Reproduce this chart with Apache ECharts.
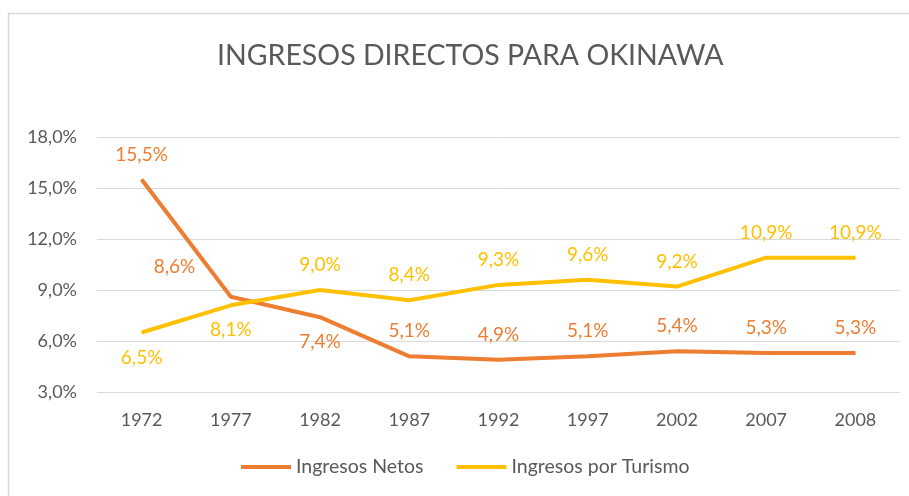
<!DOCTYPE html>
<html>
<head>
<meta charset="utf-8">
<script src="https://cdn.jsdelivr.net/npm/echarts@6/dist/echarts.min.js"></script>
<style>
  html, body { margin: 0; padding: 0; background: #fff; }
  #chart { width: 909px; height: 496px; }
</style>
</head>
<body>
<div id="chart"></div>
<script>
const years = ['1972', '1977', '1982', '1987', '1992', '1997', '2002', '2007', '2008']
const netos = [15.5, 8.6, 7.4, 5.1, 4.9, 5.1, 5.4, 5.3, 5.3]
const turismo = [6.5, 8.1, 9.0, 8.4, 9.3, 9.6, 9.2, 10.9, 10.9]
// label placement per point (Excel puts some below)
const netosPos = ['top', 'left', 'bottom', 'top', 'top', 'top', 'top', 'top', 'top']
const turismoPos = ['bottom', 'bottom', 'top', 'top', 'top', 'top', 'top', 'top', 'top']

const font = 'Lato, "Open Sans", sans-serif'
const fmt = v => v.toFixed(1).replace('.', ',') + '%'

function points(values, positions) {
  return values.map((v, i) => {
    const item = { value: v, label: { position: positions[i] } }
    if (positions[i] === 'left') {
      item.label.offset = [-20, -30]
    }
    return item
  })
}

const chart = echarts.init(document.getElementById('chart'))

const option = {
  animation: false,
  title: {
    text: 'INGRESOS DIRECTOS PARA OKINAWA',
    left: 212,
    top: 36,
    textStyle: { fontFamily: font, fontSize: 28.5, fontWeight: 'normal', color: '#595959' }
  },
  graphic: [
    {
      type: 'polyline',
      shape: { points: [[8.5, 496], [8.5, 13.5], [909, 13.5]] },
      style: { stroke: '#d9d9d9', lineWidth: 1.5, fill: null }
    }
  ],
  legend: {
    bottom: 14,
    left: 236,
    itemWidth: 50,
    itemHeight: 4,
    itemGap: 33,
    icon: 'rect',
    textStyle: { fontFamily: font, fontSize: 19.5, color: '#595959' },
    data: ['Ingresos Netos', 'Ingresos por Turismo']
  },
  grid: { left: 97, right: 9, top: 137, bottom: 104 },
  xAxis: {
    type: 'category',
    data: years,
    axisLine: { show: false },
    axisTick: { show: false },
    axisLabel: { fontFamily: font, fontSize: 18, color: '#595959', margin: 19 }
  },
  yAxis: {
    type: 'value',
    min: 3,
    max: 18,
    interval: 3,
    axisLabel: {
      fontFamily: font, fontSize: 18, color: '#595959', margin: 20,
      formatter: fmt
    },
    splitLine: { lineStyle: { color: '#d9d9d9', width: 1 } }
  },
  series: [
    {
      name: 'Ingresos Netos',
      type: 'line',
      data: points(netos, netosPos),
      symbol: 'circle',
      symbolSize: 1,
      itemStyle: { color: '#ed7d31' },
      lineStyle: { width: 4, color: '#ed7d31' },
      label: {
        show: true,
        distance: 15,
        fontFamily: font,
        fontSize: 19,
        color: '#ed7d31',
        formatter: p => fmt(p.value)
      }
    },
    {
      name: 'Ingresos por Turismo',
      type: 'line',
      data: points(turismo, turismoPos),
      symbol: 'circle',
      symbolSize: 1,
      itemStyle: { color: '#ffc000' },
      lineStyle: { width: 4, color: '#ffc000' },
      label: {
        show: true,
        distance: 15,
        fontFamily: font,
        fontSize: 19,
        color: '#ffc000',
        formatter: p => fmt(p.value)
      }
    }
  ]
}

chart.setOption(option)
</script>
</body>
</html>
